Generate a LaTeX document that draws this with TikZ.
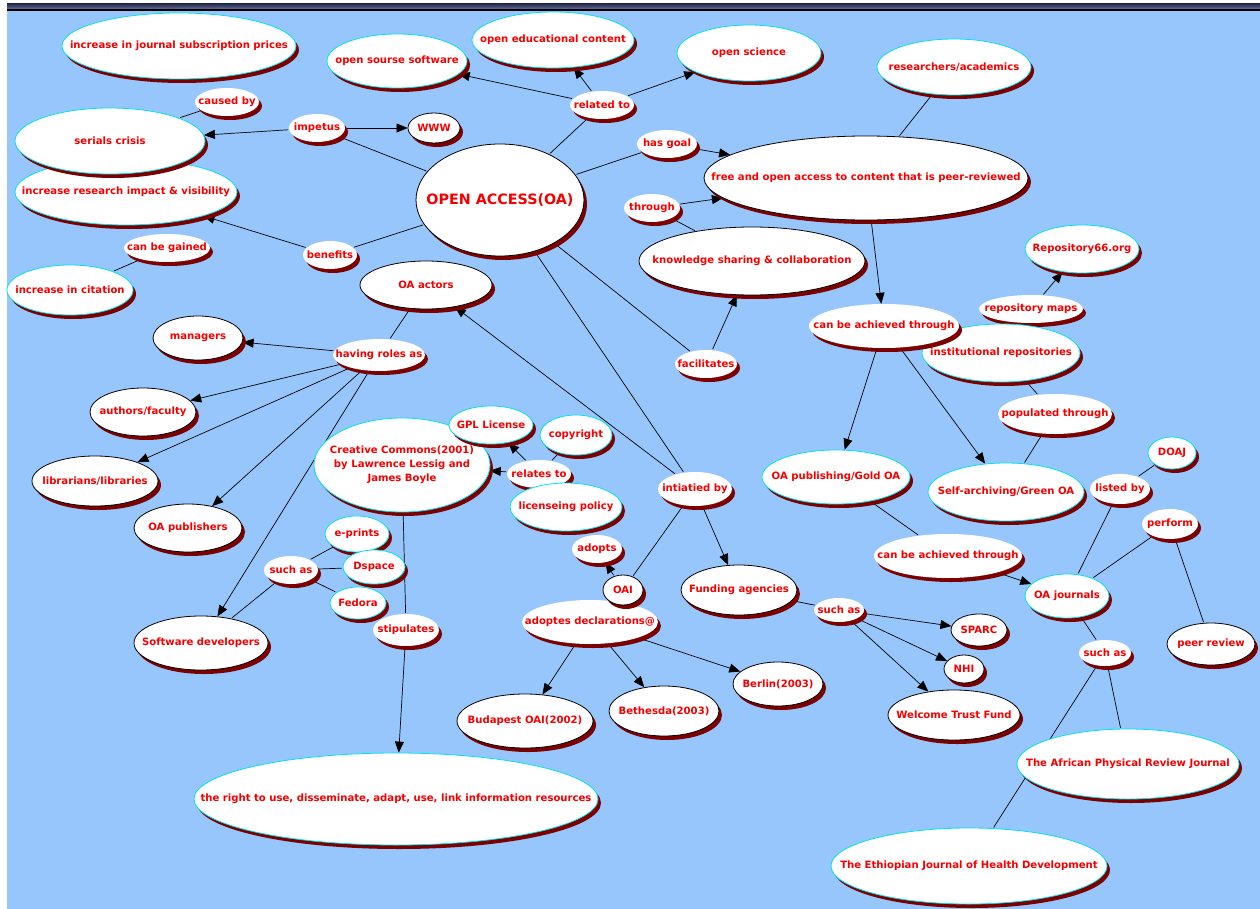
\documentclass[tikz,border=0pt]{standalone}
\usepackage{fontspec}
\setmainfont{DejaVu Sans}
\usetikzlibrary{shapes.geometric,shadows,arrows.meta}
\definecolor{bgblue}{RGB}{150,198,252}
\definecolor{shred}{RGB}{125,0,0}
\definecolor{bordcyan}{RGB}{0,225,235}
\definecolor{txtred}{RGB}{245,0,0}
\definecolor{bartop}{RGB}{40,46,78}
\definecolor{barbot}{RGB}{105,118,165}
\pgfdeclarelayer{bg}
\pgfsetlayers{bg,main}
\tikzset{
  base/.style={ellipse, fill=white, inner sep=0pt, text=txtred,
    font=\bfseries\fontsize{10.1}{14}\selectfont,
    general shadow={shadow xshift=3pt, shadow yshift=-4pt, fill=shred}},
  cy/.style={base, draw=bordcyan, line width=0.8pt},
  bk/.style={base, draw=black, line width=0.8pt},
  lp/.style={base},
  con/.style={draw=black, line width=0.7pt, shorten <=1pt, shorten >=1pt},
  arr/.style={draw=black, line width=0.7pt, shorten <=1pt, -{Triangle[length=11pt,width=9pt]}},
}
\newcommand\el[7]{\node[#6, minimum width=#4pt, minimum height=#5pt] (#1) at (#2,#3) {\makebox[0pt]{#7}};}
\begin{document}
\begin{tikzpicture}[x=1pt,y=-1pt]
\useasboundingbox (0,0) rectangle (1260,909);
\begin{pgfonlayer}{bg}
\fill[white] (0,0) rectangle (1260,909);
\fill[bgblue] (7,11) rectangle (1260,909);
\shade[top color=bartop, bottom color=barbot] (7,4) rectangle (1260,9.5);
\fill[black] (7,9.5) rectangle (1260,11);
\end{pgfonlayer}
% concepts and linking phrases
\el{jsp}{179}{46}{234}{66}{cy}{increase in journal subscription prices}
\el{oss}{397}{61}{140}{54}{cy}{open sourse software}
\el{oec}{553}{40}{162}{56}{cy}{open educational content}
\el{osc}{749}{53}{144}{56}{cy}{open science}
\el{res}{954}{67}{154}{56}{cy}{researchers/academics}
\el{cby}{227}{102}{64}{28}{lp}{caused by}
\el{iri}{126}{192}{222}{66}{cy}{increase research impact \& visibility}
\el{ser}{110}{141}{190}{66}{cy}{serials crisis}
\el{imp}{317}{128}{56}{28}{lp}{impetus}
\el{www}{434}{128}{52}{30}{bk}{WWW}
\el{rel}{602}{105}{64}{28}{lp}{related to}
\el{hgo}{667}{144}{60}{28}{lp}{has goal}
\node[bk, minimum width=168pt, minimum height=112pt, font=\bfseries\fontsize{14.3}{17}\selectfont] (oa) at (500,200) {\makebox[0pt]{OPEN ACCESS(OA)}};
\el{free}{866}{178}{324}{84}{bk}{free and open access to content that is peer-reviewed}
\el{thr}{652}{208}{56}{28}{lp}{through}
\el{ksc}{752}{261}{226}{68}{bk}{knowledge sharing \& collaboration}
\el{cbg}{167}{248}{86}{28}{lp}{can be gained}
\el{ben}{330}{255}{54}{28}{lp}{benefits}
\el{iic}{70}{290}{126}{50}{cy}{increase in citation}
\el{oaa}{426}{285}{132}{48}{bk}{OA actors}
\el{r66}{1082}{249}{114}{48}{cy}{Repository66.org}
\el{rmap}{1031}{309}{104}{28}{lp}{repository maps}
\el{inr}{1001}{353}{158}{58}{cy}{institutional repositories}
\el{cbat}{884}{326}{150}{44}{lp}{can be achieved through}
\el{man}{198}{338}{90}{44}{bk}{managers}
\el{hra}{379}{355}{92}{32}{lp}{having roles as}
\el{fac}{706}{364}{62}{28}{lp}{facilitates}
\el{auf}{143}{412}{106}{48}{bk}{authors/faculty}
\el{pth}{1055}{414}{114}{40}{lp}{populated through}
\node[cy, minimum width=176pt, minimum height=94pt] (cc) at (402,465) {\makebox[0pt]{\begin{tabular}{@{}c@{}}Creative Commons(2001)\\by Lawrence Lessig and\\James Boyle\end{tabular}}};
\el{gpl}{491}{425}{84}{38}{cy}{GPL License}
\el{cop}{576}{435}{72}{40}{cy}{copyright}
\el{rto}{539}{474}{64}{28}{lp}{relates to}
\el{lib}{95}{481}{126}{50}{bk}{librarians/libraries}
\el{ini}{695}{489}{74}{34}{lp}{intiatied by}
\el{gold}{836}{477}{148}{54}{cy}{OA publishing/Gold OA}
\el{green}{1006}{492}{156}{58}{cy}{Self-archiving/Green OA}
\el{doaj}{1172}{453}{48}{32}{cy}{DOAJ}
\el{lby}{1120}{489}{60}{30}{lp}{listed by}
\el{lic}{566}{507}{112}{48}{cy}{licenseing policy}
\el{oap}{188}{528}{108}{48}{bk}{OA publishers}
\el{perf}{1170}{524}{56}{30}{lp}{perform}
\el{epr}{357}{534}{64}{36}{cy}{e-prints}
\el{adp}{597}{549}{50}{28}{lp}{adopts}
\el{cbat2}{948}{556}{148}{44}{lp}{can be achieved through}
\el{sa1}{291}{570}{54}{28}{lp}{such as}
\el{dsp}{374}{567}{62}{34}{cy}{Dspace}
\el{fed}{358}{603}{56}{32}{cy}{Fedora}
\el{adec}{590}{622}{136}{44}{lp}{adoptes declarations@}
\el{oai}{623}{590}{40}{30}{bk}{OAI}
\el{fund}{739}{590}{116}{50}{bk}{Funding agencies}
\el{oaj}{1067}{596}{84}{44}{cy}{OA journals}
\el{sti}{406}{630}{66}{32}{lp}{stipulates}
\el{sa2}{839}{610}{50}{24}{lp}{such as}
\el{sparc}{979}{630}{56}{32}{bk}{SPARC}
\el{sdev}{201}{643}{134}{54}{bk}{Software developers}
\el{peer}{1211}{644}{88}{42}{bk}{peer review}
\el{sa3}{1105}{653}{52}{26}{lp}{such as}
\el{nhi}{964}{669}{40}{28}{bk}{NHI}
\el{ber}{778}{684}{90}{44}{bk}{Berlin(2003)}
\el{bet}{664}{711}{110}{50}{bk}{Bethesda(2003)}
\el{bud}{525}{721}{136}{54}{bk}{Budapest OAI(2002)}
\el{wtf}{954}{715}{132}{50}{bk}{Welcome Trust Fund}
\el{afr}{1128}{764}{222}{70}{cy}{The African Physical Review Journal}
\el{right}{396}{799}{404}{92}{cy}{the right to use, disseminate, adapt, use, link information resources}
\el{eth}{969}{866}{276}{76}{cy}{The Ethiopian Journal of Health Development}
% connectors
\begin{pgfonlayer}{bg}
\draw[con] (oa) -- (imp);
\draw[arr] (imp) -- (ser);
\draw[arr] (imp) -- (www);
\draw[con] (ser) -- (cby);
\draw[con] (oa) -- (rel);
\draw[arr] (rel) -- (oss);
\draw[arr] (rel) -- (oec);
\draw[arr] (rel) -- (osc);
\draw[con] (oa) -- (hgo);
\draw[arr] (hgo) -- (free);
\draw[con] (ksc) -- (thr);
\draw[arr] (thr) -- (free);
\draw[con] (res) -- (free);
\draw[arr] (free) -- (cbat);
\draw[con] (oa) -- (ben);
\draw[arr] (ben) -- (iri);
\draw[con] (iic) -- (cbg);
\draw[con] (oa) -- (ini);
\draw[arr] (ini) -- (oaa);
\draw[arr] (ini) -- (fund);
\draw[con] (ini) -- (oai);
\draw[con] (oa) -- (fac);
\draw[arr] (fac) -- (ksc);
\draw[con] (oaa) -- (hra);
\draw[arr] (hra) -- (man);
\draw[arr] (hra) -- (auf);
\draw[arr] (hra) -- (lib);
\draw[arr] (hra) -- (oap);
\draw[arr] (hra) -- (sdev);
\draw[con] (sdev) -- (sa1);
\draw[con] (sa1) -- (epr);
\draw[con] (sa1) -- (dsp);
\draw[con] (sa1) -- (fed);
\draw[con] (cc) -- (sti);
\draw[arr] (sti) -- (right);
\draw[arr] (rto) -- (cc);
\draw[arr] (rto) -- (gpl);
\draw[con] (cop) -- (rto);
\draw[arr] (oai) -- (adp);
\draw[arr] (adec) -- (bud);
\draw[arr] (adec) -- (bet);
\draw[arr] (adec) -- (ber);
\draw[con] (fund) -- (sa2);
\draw[arr] (sa2) -- (sparc);
\draw[arr] (sa2) -- (nhi);
\draw[arr] (sa2) -- (wtf);
\draw[arr] (cbat) -- (gold);
\draw[arr] (cbat) -- (green);
\draw[con] (inr) -- (pth);
\draw[con] (pth) -- (green);
\draw[arr] (rmap) -- (r66);
\draw[con] (gold) -- (cbat2);
\draw[arr] (cbat2) -- (oaj);
\draw[con] (oaj) -- (lby);
\draw[con] (lby) -- (doaj);
\draw[con] (oaj) -- (perf);
\draw[con] (perf) -- (peer);
\draw[con] (oaj) -- (sa3);
\draw[con] (sa3) -- (afr);
\draw[con] (sa3) -- (eth);
\end{pgfonlayer}
\end{tikzpicture}
\end{document}
